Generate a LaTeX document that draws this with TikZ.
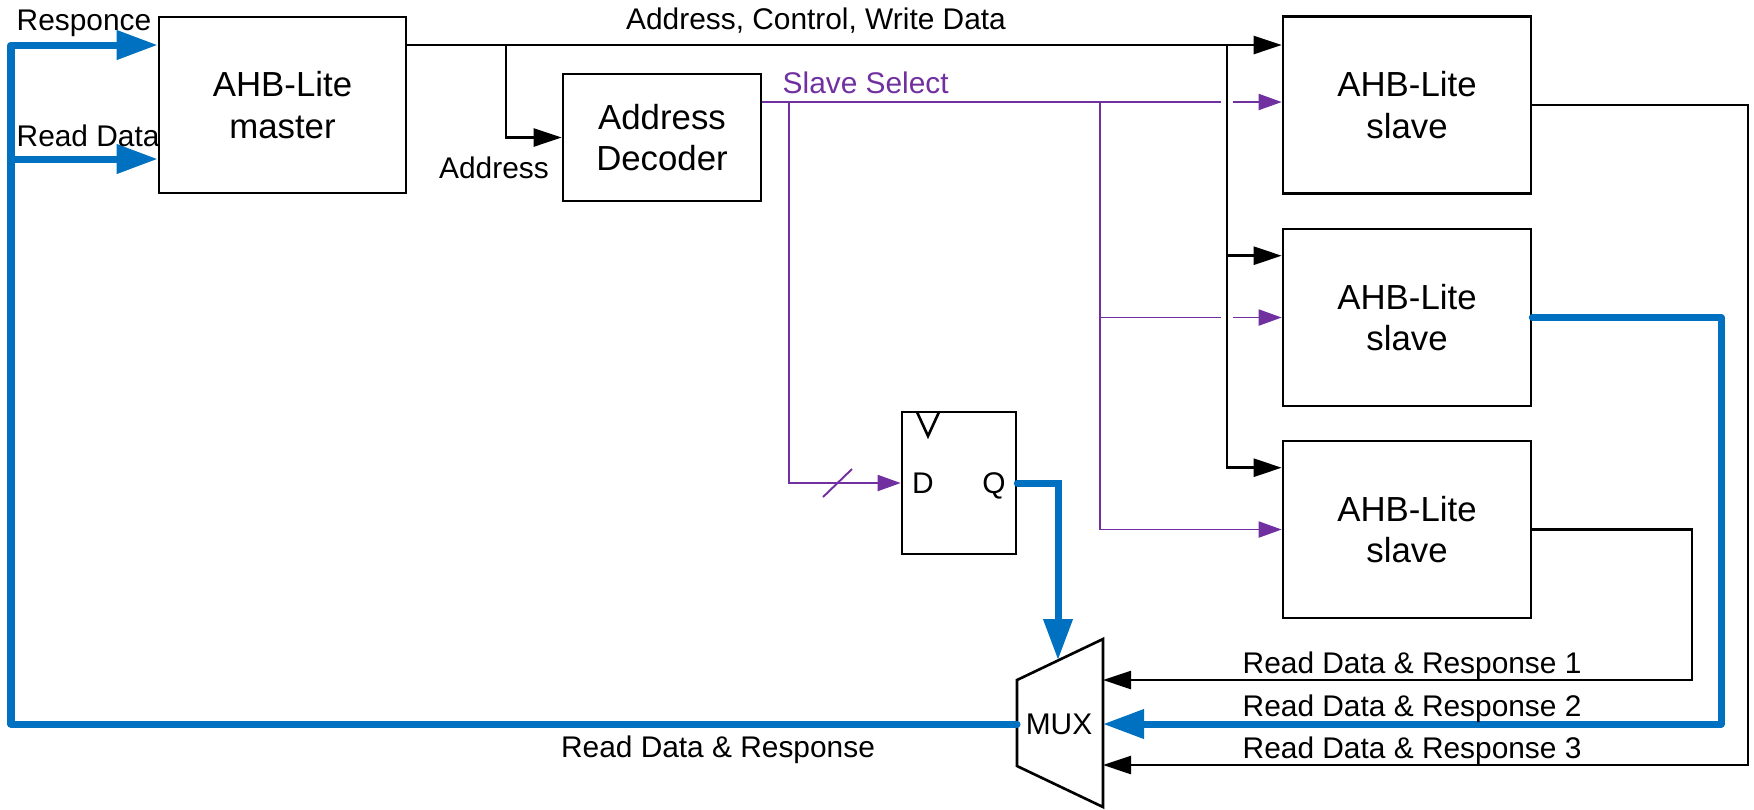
\documentclass[tikz,border=0pt]{standalone}
\usepackage{fontspec}
\setmainfont{Liberation Sans}
\usepackage{xcolor}
\definecolor{RdBlue}{HTML}{0070C0}
\definecolor{SelPurple}{HTML}{7030A0}
\usepackage{tikz}
\usetikzlibrary{arrows.meta,calc,positioning}
\newcommand\boxfnt{\fontsize{9.9}{11.9}\selectfont}
\newcommand\sigfnt{\fontsize{8.5}{10}\selectfont}

\begin{document}
\begin{tikzpicture}[
  x=0.1mm,y=-0.1mm,
  blk/.style={draw,line width=0.75pt,minimum width=24.8mm,minimum height=17.7mm,align=center,font=\boxfnt,inner sep=0pt},
  lbl/.style={inner sep=0pt,font=\sigfnt,anchor=base},
  bus/.style={line width=0.7pt,-{Triangle[length=2.8mm,width=1.8mm]}},
  sel/.style={draw=SelPurple,line width=0.55pt,-{Triangle[length=2.3mm,width=1.6mm]}},
  rd/.style={draw=RdBlue,line width=2pt,line cap=round,-{Triangle[length=4.1mm,width=2.8mm]}}
]
\useasboundingbox (0,0) rectangle (1754,809);
\node[blk,minimum width=24.7mm,minimum height=17.6mm] (master) at (282.5,105) {AHB-Lite\\master};
\node[blk,minimum width=19.8mm,minimum height=12.7mm] (dec) at (662,137.5) {Address\\Decoder};
\foreach \i/\y in {1/105,2/317.5,3/529.5}
  \node[blk] (s\i) at (1407,\y) {AHB-Lite\\slave};
\node[draw,line width=0.75pt,minimum width=11.4mm,minimum height=14.2mm] (ff) at (959,483) {};
\node[lbl] (d) at (923,493.5) {D};
\node[lbl] (q) at (994,493.5) {Q};
\draw[line width=0.75pt] (917,412) -- (928,436) -- (939,412);
% multiplexer
\draw[line width=0.75pt] (1017,680) -- (1103,639) -- (1103,807) -- (1017,766) -- cycle;
\node[lbl] (mux) at (1059,734.5) {MUX};
\coordinate (muxin1) at (1103,680);
\coordinate (muxin2) at (1103,724);
\coordinate (muxin3) at (1103,765);
\coordinate (muxsel) at (1058,660);
\coordinate (muxout) at (1017,724);
% slave select
\coordinate (selA) at (789,102);
\coordinate (selB) at (1100,102);
\draw[sel] (dec.east |- selA) -- (s1.west |- selA);
\draw[sel] (selA) |- (ff.west);
\draw[sel] (selB) |- (s2.west);
\draw[sel] (selB) |- (s3.west);
\draw[SelPurple,line width=0.55pt] (823,497) -- (852,469);
% address, control, write data
\coordinate (busA) at (506,45);
\coordinate (busB) at (1227,45);
\draw[white,line width=3.2pt] (1227,60) -- (1227,455);
\draw[bus] (master.east |- busA) -- (s1.west |- busA);
\draw[bus] (busA) |- (dec.west);
\draw[bus] (busB) |- ($(s2.north west)+(0,28)$);
\draw[bus] (busB) |- ($(s3.north west)+(0,28)$);
% read data and response
\coordinate (r1) at (1748,765);
\coordinate (r2) at (1721,724);
\coordinate (r3) at (1692,680);
\draw[bus] (s1.east) -| (r1) -- (muxin3);
\draw[bus] (s3.east) -| (r3) -- (muxin1);
\draw[rd,line join=round] (s2.east) -| (r2) -- (muxin2);
\draw[rd] (ff.east) -| (muxsel);
\coordinate (rdc) at (11,724);
\coordinate (rdt) at (11,45);
\coordinate (rdm) at (11,159);
\draw[rd,line join=round] (muxout) -- (rdc) -- (rdt) -- (master.west |- rdt);
\draw[rd] (rdm) -- (master.west |- rdm);
% labels
\node[lbl,anchor=base west] (lresp) at (16,30) {Responce};
\node[lbl,anchor=base west] (lrd) at (16,146) {Read Data};
\node[lbl] (laddr) at (494,178.5) {Address};
\node[lbl] (lacw) at (816,29.5) {Address, Control, Write Data};
\node[lbl,anchor=base west,text=SelPurple] (lsel) at (782,93.5) {Slave Select};
\node[lbl] (lrdr) at (718,757.5) {Read Data \& Response};
\foreach \i/\y in {1/673,2/716.5,3/758.5}
  \node[lbl,anchor=base west] (lrdr\i) at (1242,\y) {Read Data \& Response \i};
\end{tikzpicture}
\end{document}
